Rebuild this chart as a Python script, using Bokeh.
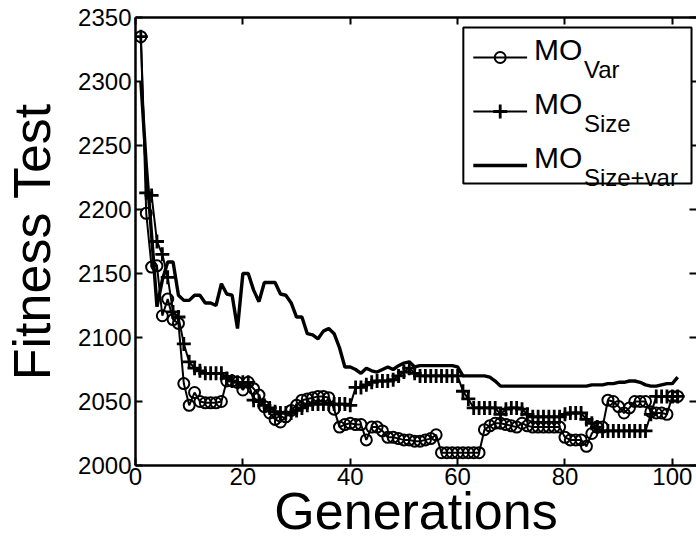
from bokeh.plotting import figure
from bokeh.models import Range1d, LinearAxis, BoxAnnotation, Label, ColumnDataSource, FixedTicker
from bokeh.embed import file_html
from bokeh.resources import INLINE

generations = list(range(1, 102))

mo_var = [2335, 2197, 2155, 2156, 2117, 2130, 2114, 2111, 2064, 2047,
          2057, 2050, 2049, 2049, 2049, 2050, 2066, 2066, 2065, 2059,
          2065, 2060, 2055, 2046, 2041, 2036, 2034, 2038, 2043, 2047,
          2051, 2052, 2053, 2054, 2054, 2053, 2044, 2030, 2032, 2033,
          2032, 2032, 2020, 2030, 2030, 2027, 2022, 2022, 2021, 2020,
          2020, 2019, 2019, 2020, 2021, 2024, 2010, 2010, 2010, 2010,
          2010, 2010, 2010, 2010, 2028, 2031, 2033, 2033, 2032, 2031,
          2030, 2033, 2031, 2030, 2030, 2030, 2030, 2030, 2030, 2022,
          2020, 2020, 2020, 2015, 2025, 2030, 2030, 2051, 2050, 2046,
          2041, 2045, 2050, 2050, 2050, 2042, 2041, 2041, 2040, 2054,
          2054]

mo_size = [2335, 2213, 2211, 2175, 2165, 2147, 2120, 2116, 2095, 2081,
           2076, 2074, 2072, 2072, 2072, 2072, 2068, 2066, 2065, 2065,
           2065, 2051, 2050, 2047, 2045, 2042, 2041, 2041, 2041, 2043,
           2045, 2047, 2048, 2048, 2048, 2048, 2048, 2048, 2048, 2047,
           2061, 2061, 2063, 2065, 2066, 2066, 2066, 2067, 2070, 2073,
           2076, 2072, 2070, 2070, 2070, 2070, 2070, 2070, 2070, 2070,
           2058, 2052, 2045, 2045, 2045, 2045, 2045, 2040, 2044, 2045,
           2045, 2044, 2040, 2038, 2038, 2038, 2038, 2038, 2038, 2040,
           2041, 2041, 2041, 2036, 2033, 2030, 2027, 2027, 2027, 2027,
           2027, 2027, 2027, 2027, 2027, 2040, 2054, 2054, 2054, 2054,
           2054]

mo_size_var = [2300, 2235, 2180, 2124, 2145, 2159, 2159, 2133, 2129, 2129,
               2133, 2133, 2127, 2127, 2125, 2142, 2134, 2133, 2107, 2150,
               2150, 2137, 2128, 2143, 2143, 2143, 2134, 2133, 2127, 2116,
               2116, 2103, 2102, 2099, 2105, 2107, 2103, 2092, 2077, 2077,
               2075, 2072, 2076, 2074, 2073, 2075, 2077, 2075, 2078, 2080,
               2081, 2077, 2078, 2078, 2078, 2078, 2078, 2078, 2078, 2077,
               2070, 2070, 2070, 2070, 2070, 2069, 2066, 2062, 2062, 2062,
               2062, 2062, 2062, 2062, 2062, 2062, 2062, 2062, 2062, 2062,
               2062, 2062, 2062, 2062, 2063, 2063, 2063, 2064, 2064, 2065,
               2065, 2066, 2066, 2065, 2063, 2062, 2062, 2063, 2064, 2064,
               2069]

x_ticks = [0, 20, 40, 60, 80, 100]
y_ticks = [2000, 2050, 2100, 2150, 2200, 2250, 2300, 2350]
legend_names = ["Var", "Size", "Size+var"]

X0, X1 = 0, 104.5
Y0, Y1 = 2000, 2350
FONT = "Liberation Sans"

# frame geometry (pixels) used only to place the hand-made legend
FL, FR, FT, FB = 133, 696, 17, 465


def px2x(px):
    return X0 + (px - FL) * (X1 - X0) / (FR - FL)


def py2y(py):
    return Y1 - (py - FT) * (Y1 - Y0) / (FB - FT)


p = figure(width=696, height=542, x_range=Range1d(X0, X1), y_range=Range1d(Y0, Y1),
           output_backend="svg", toolbar_location=None,
           min_border_left=FL, min_border_right=0, min_border_top=FT,
           min_border_bottom=542 - FB)
p.xgrid.visible = False
p.ygrid.visible = False
p.outline_line_color = None
p.background_fill_color = "white"
p.border_fill_color = "white"

for ax in (p.xaxis[0], p.yaxis[0]):
    ax.major_tick_in = 7
    ax.major_tick_out = 0
    ax.minor_tick_line_color = None
    ax.axis_line_width = 2.5
    ax.major_tick_line_width = 2
    ax.axis_line_color = "black"
    ax.major_tick_line_color = "black"
    ax.major_label_text_font = FONT
    ax.major_label_text_font_size = "24px"
    ax.major_label_text_color = "black"
    ax.axis_label_text_font = FONT
    ax.axis_label_text_font_size = "52px"
    ax.axis_label_text_font_style = "normal"
    ax.axis_label_text_color = "black"

p.xaxis[0].ticker = FixedTicker(ticks=x_ticks)
p.yaxis[0].ticker = FixedTicker(ticks=y_ticks)
p.xaxis[0].axis_label = "Generations"
p.yaxis[0].axis_label = "Fitness Test"
p.xaxis[0].major_label_standoff = 2
p.xaxis[0].axis_label_standoff = -6
p.yaxis[0].major_label_standoff = 4
p.yaxis[0].axis_label_standoff = 14

blank_x = {str(t): "" for t in x_ticks}
blank_y = {str(t): "" for t in y_ticks}
top = LinearAxis(ticker=FixedTicker(ticks=x_ticks), major_tick_in=7, major_tick_out=0,
                 minor_tick_line_color=None, axis_line_width=2.5, major_tick_line_width=2,
                 major_label_overrides=blank_x, major_label_text_color=None,
                 major_label_standoff=0)
p.add_layout(top, "above")
right = LinearAxis(ticker=FixedTicker(ticks=y_ticks), major_tick_in=7, major_tick_out=0,
                   minor_tick_line_color=None, axis_line_color=None, major_tick_line_width=2,
                   major_label_overrides=blank_y, major_label_text_color=None,
                   major_label_standoff=0)
p.add_layout(right, "right")

src = ColumnDataSource(dict(g=generations, var=mo_var, size=mo_size, sv=mo_size_var))

p.line("g", "var", source=src, line_color="black", line_width=2)
p.scatter("g", "var", source=src, marker="circle", size=11, fill_color=None,
          line_color="black", line_width=2)
p.line("g", "size", source=src, line_color="black", line_width=2)
p.scatter("g", "size", source=src, marker="cross", size=14, line_color="black", line_width=2.8)
p.line("g", "sv", source=src, line_color="black", line_width=3.4)

# hand-made legend (for subscripted labels)
box = BoxAnnotation(left=px2x(462), right=px2x(691), top=py2y(27), bottom=py2y(183),
                    fill_color="white", fill_alpha=1.0, line_color="black", line_alpha=1.0,
                    line_width=2, level="annotation")
p.add_layout(box)

rows_py = [57, 111, 165]
for i, (name, ypx) in enumerate(zip(legend_names, rows_py)):
    yy = py2y(ypx)
    lw = 3.4 if i == 2 else 2
    r = p.line([px2x(472), px2x(526)], [yy, yy], line_color="black", line_width=lw,
               level="overlay")
    if i == 0:
        p.scatter([px2x(499)], [yy], marker="circle", size=11, fill_color=None,
                  line_color="black", line_width=2, level="overlay")
    elif i == 1:
        p.scatter([px2x(499)], [yy], marker="cross", size=14, line_color="black",
                  line_width=2.8, level="overlay")
    lab = Label(x=px2x(533), y=py2y(ypx - 8), text="MO", text_font=FONT,
                text_font_size="30px", text_color="black", text_baseline="alphabetic",
                level="overlay")
    p.add_layout(lab)
    sub = Label(x=px2x(583), y=py2y(ypx + 12), text=name, text_font=FONT,
                text_font_size="24px", text_color="black", text_baseline="alphabetic",
                level="overlay")
    p.add_layout(sub)

open("out.html", "w").write(file_html(p, INLINE))
